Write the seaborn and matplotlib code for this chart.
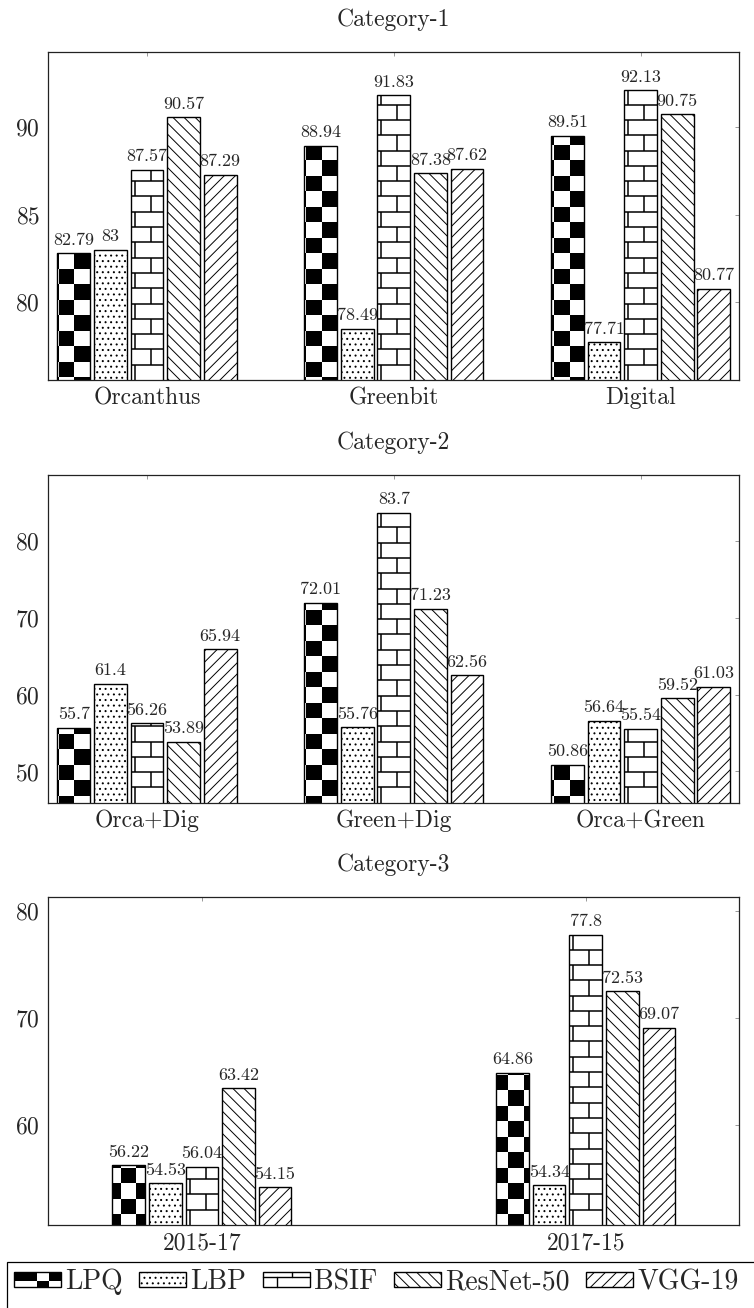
import numpy as np
import pandas as pd
import matplotlib
matplotlib.use('Agg')
import matplotlib.pyplot as plt
import seaborn as sns
from matplotlib.patches import Rectangle, Patch
from matplotlib.collections import PatchCollection, LineCollection
from matplotlib.lines import Line2D
from matplotlib.legend_handler import HandlerBase
from matplotlib.ticker import MultipleLocator

# data
methods = ['LPQ', 'LBP', 'BSIF', 'ResNet-50', 'VGG-19']

cat1_groups = ['Orcanthus', 'Greenbit', 'Digital']
cat1_lpq = [82.79, 88.94, 89.51]
cat1_lbp = [83, 78.49, 77.71]
cat1_bsif = [87.57, 91.83, 92.13]
cat1_resnet = [90.57, 87.38, 90.75]
cat1_vgg = [87.29, 87.62, 80.77]

cat2_groups = ['Orca+Dig', 'Green+Dig', 'Orca+Green']
cat2_lpq = [55.7, 72.01, 50.86]
cat2_lbp = [61.4, 55.76, 56.64]
cat2_bsif = [56.26, 83.7, 55.54]
cat2_resnet = [53.89, 71.23, 59.52]
cat2_vgg = [65.94, 62.56, 61.03]

cat3_groups = ['2015-17', '2017-15']
cat3_lpq = [56.22, 64.86]
cat3_lbp = [54.53, 54.34]
cat3_bsif = [56.04, 77.8]
cat3_resnet = [63.42, 72.53]
cat3_vgg = [54.15, 69.07]

titles = ['Category-1', 'Category-2', 'Category-3']
ytick_steps = [5, 10, 10]

sns.set_style('white')
plt.rcParams['font.family'] = ['cmr10', 'DejaVu Serif']
plt.rcParams['mathtext.fontset'] = 'cm'
plt.rcParams['axes.formatter.use_mathtext'] = True
plt.rcParams['hatch.linewidth'] = 0.7
plt.rcParams['hatch.color'] = 'black'

W, H = 754, 1308
fig = plt.figure(figsize=(W / 100, H / 100), dpi=100)

# axes boxes in pixels: left, top, right, bottom
boxes = [(48.3, 52.3, 739.3, 380.0), (48.3, 475.0, 739.3, 802.7), (48.3, 897.0, 739.3, 1225.0)]
SLOT_PX = 36.6
BAR_PX = 32.7
SQ = 15.5      # checker square size (px)
BRICK_H = 15.3


def make_df(groups, series):
    rows = []
    for m, vals in zip(methods, series):
        for g, v in zip(groups, vals):
            rows.append((g, m, v))
    return pd.DataFrame(rows, columns=['group', 'method', 'value'])


def to_data(ax, pts):
    return ax.transData.inverted().transform(np.asarray(pts))


def clip_to_bar(art, ax, bar):
    # clip by the bar outline and by the axes box
    art.set_clip_path(bar.get_path(), bar.get_transform())
    art.set_clip_box(ax.bbox)


def add_checker(ax, bar):
    bb = bar.get_window_extent()
    axb = ax.get_window_extent()
    x0, x1 = bb.x0, bb.x1
    ylo, yhi = max(bb.y0, axb.y0), bb.y1
    # page anchored grid, top-down pixel coords
    top_px, bot_px = H - yhi, H - ylo
    ox, oy = 12.0, 5.3
    rects = []
    for c in range(int(np.floor((x0 - ox) / SQ)), int(np.ceil((x1 - ox) / SQ))):
        for r in range(int(np.floor((top_px - oy) / SQ)), int(np.ceil((bot_px - oy) / SQ))):
            if (r + c) % 2 == 0:
                xa = ox + c * SQ
                ya = H - (oy + (r + 1) * SQ)
                (dx0, dy0), (dx1, dy1) = to_data(ax, [(xa, ya), (xa + SQ, ya + SQ)])
                rects.append(Rectangle((dx0, dy0), dx1 - dx0, dy1 - dy0))
    pc = PatchCollection(rects, facecolor='black', edgecolor='none', zorder=0.5, antialiased=False)
    ax.add_collection(pc)
    clip_to_bar(pc, ax, bar)


def add_brick(ax, bar):
    bb = bar.get_window_extent()
    axb = ax.get_window_extent()
    x0, x1 = bb.x0, bb.x1
    yhi = bb.y1
    segs = []
    k = 0
    y = axb.y0
    while y < yhi:
        ynext = min(y + BRICK_H, yhi)
        if k > 0:
            segs.append([(x0, y), (x1, y)])
        off = 4.0 if k % 2 == 0 else 20.0
        xv = x0 + off
        while xv < x1:
            segs.append([(xv, y), (xv, ynext)])
            xv += 32.0
        y += BRICK_H
        k += 1
    segs = [to_data(ax, s) for s in segs]
    lc = LineCollection(segs, colors='black', linewidths=1.1, zorder=0.5)
    ax.add_collection(lc)
    clip_to_bar(lc, ax, bar)


def draw_panel(ax, title, groups, series, step):
    df = make_df(groups, series)
    n = len(groups)
    px_per_unit = (boxes[0][2] - boxes[0][0]) / (n - 1 + 0.8)
    width = 5 * SLOT_PX / px_per_unit
    sns.barplot(df, x='group', y='value', hue='method', order=groups, hue_order=methods,
                palette={m: 'white' for m in methods}, edgecolor='black', linewidth=1.0,
                width=width, gap=1 - BAR_PX / SLOT_PX, saturation=1, errorbar=None,
                legend=False, ax=ax)
    ax.set_xlim(-0.4, n - 1 + 0.4)
    vals = np.concatenate([np.asarray(s, dtype=float) for s in series])
    span = vals.max() - vals.min()
    ax.set_ylim(vals.min() - 0.15 * span, vals.max() + 0.15 * span)
    ax.yaxis.set_major_locator(MultipleLocator(step))
    ax.set_xlabel('')
    ax.set_ylabel('')
    ax.set_title(title, fontsize=17, pad=19)
    ax.tick_params(axis='both', which='both', direction='in', length=3, width=0.6,
                   color='#888888', top=True, right=True, labelsize=17)
    ax.tick_params(axis='x', pad=5)
    ax.tick_params(axis='y', pad=6)
    for sp in ax.spines.values():
        sp.set_color('#222222')
        sp.set_linewidth(0.9)

    hatches = {1: '...', 3: '\\\\\\', 4: '///'}
    for i, cont in enumerate(ax.containers):
        for bar in cont:
            if i == 0:
                bar.set_facecolor('none')
                add_checker(ax, bar)
            elif i == 2:
                bar.set_facecolor('none')
                add_brick(ax, bar)
            else:
                bar.set_hatch(hatches[i])
        ax.bar_label(cont, labels=[f'{v:g}' for v in cont.datavalues], padding=4, fontsize=13)


panel_data = [
    (cat1_groups, [cat1_lpq, cat1_lbp, cat1_bsif, cat1_resnet, cat1_vgg]),
    (cat2_groups, [cat2_lpq, cat2_lbp, cat2_bsif, cat2_resnet, cat2_vgg]),
    (cat3_groups, [cat3_lpq, cat3_lbp, cat3_bsif, cat3_resnet, cat3_vgg]),
]

for (l, t, r, b), title, (groups, series), step in zip(boxes, titles, panel_data, ytick_steps):
    ax = fig.add_axes([l / W, 1 - b / H, (r - l) / W, (b - t) / H])
    draw_panel(ax, title, groups, series, step)


class PatternHandler(HandlerBase):
    def __init__(self, kind):
        super().__init__()
        self.kind = kind

    def create_artists(self, legend, orig_handle, xdescent, ydescent, width, height, fontsize, trans):
        x0, y0 = -xdescent, -ydescent
        arts = []
        if self.kind == 'checker':
            top = [1, 1, 0, 1]
            bottom = [0, 0, 1, 0]
            cw = width / 4
            for i in range(4):
                if top[i]:
                    arts.append(Rectangle((x0 + i * cw, y0 + 0.4 * height), cw, 0.6 * height,
                                          facecolor='black', edgecolor='none', transform=trans))
                if bottom[i]:
                    arts.append(Rectangle((x0 + i * cw, y0), cw, 0.4 * height,
                                          facecolor='black', edgecolor='none', transform=trans))
            arts.append(Rectangle((x0, y0), width, height, facecolor='none', edgecolor='black',
                                  lw=1.0, transform=trans))
        elif self.kind == 'brick':
            yl = y0 + 0.65 * height
            arts.append(Line2D([x0, x0 + width], [yl, yl], color='black', lw=1.0, transform=trans))
            arts.append(Line2D([x0 + 0.62 * width] * 2, [yl, y0 + height], color='black', lw=1.0, transform=trans))
            arts.append(Line2D([x0 + 0.3 * width] * 2, [y0, yl], color='black', lw=1.0, transform=trans))
            arts.append(Rectangle((x0, y0), width, height, facecolor='none', edgecolor='black',
                                  lw=1.0, transform=trans))
        else:
            arts.append(Rectangle((x0, y0), width, height, facecolor='white', edgecolor='black',
                                  lw=1.0, hatch=self.kind, transform=trans))
        return arts


handles = [Patch(label=m) for m in methods]
kinds = ['checker', '...', 'brick', '\\\\\\', '///']
handler_map = {h: PatternHandler(k) for h, k in zip(handles, kinds)}

leg_top = 1 - 1262 / H
leg = fig.legend(handles=handles, labels=methods, handler_map=handler_map, ncol=5,
                 loc='upper left', bbox_to_anchor=(7 / W, leg_top), borderaxespad=0,
                 fontsize=20, handlelength=1.69, handleheight=0.47, handletextpad=0.15,
                 columnspacing=0.6, borderpad=0.25, frameon=False)
# legend box runs past the right and bottom edge of the figure
fig.add_artist(Rectangle((7 / W, -0.05), 1.0, leg_top + 0.05, transform=fig.transFigure,
                         fill=False, edgecolor='black', linewidth=0.9))

fig.savefig('out.png', dpi=100)
